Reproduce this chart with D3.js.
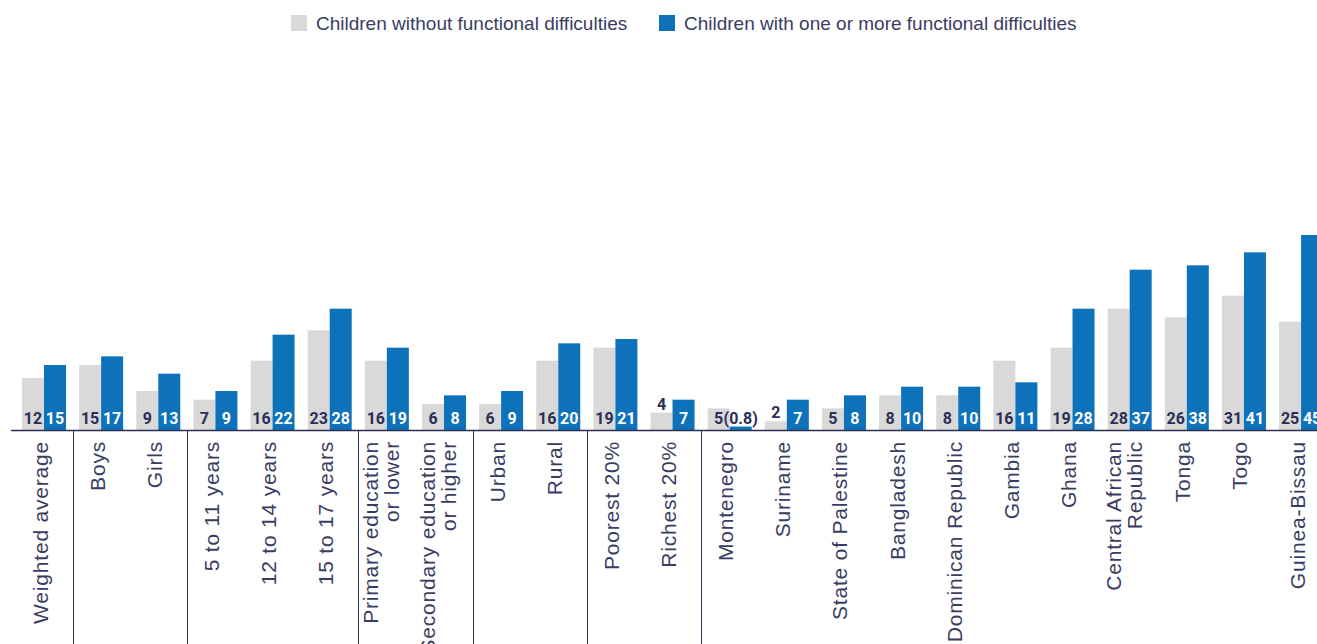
<!DOCTYPE html>
<html><head><meta charset="utf-8">
<script src="https://cdn.jsdelivr.net/npm/d3@7"></script>
<style>
body{margin:0;background:#fff;}
svg{display:block;}
</style></head>
<body>
<svg id="chart" width="1317" height="644"></svg>
<script>
const categories = [
  ["Weighted average"], ["Boys"], ["Girls"], ["5 to 11 years"], ["12 to 14 years"], ["15 to 17 years"],
  ["Primary education","or lower"], ["Secondary education","or higher"], ["Urban"], ["Rural"],
  ["Poorest 20%"], ["Richest 20%"], ["Montenegro"], ["Suriname"], ["State of Palestine"],
  ["Bangladesh"], ["Dominican Republic"], ["Gambia"], ["Ghana"], ["Central African","Republic"],
  ["Tonga"], ["Togo"], ["Guinea-Bissau"]
];
const withoutDiff = [12,15,9,7,16,23,16,6,6,16,19,4,5,2,5,8,8,16,19,28,26,31,25];
const withDiff    = [15,17,13,9,22,28,19,8,9,20,21,7,0.8,7,8,10,10,11,28,37,38,41,45];
const seriesNames = ["Children without functional difficulties","Children with one or more functional difficulties"];
const groupBreaks = [1,3,6,8,10,12]; // separator before these category indices

const colors = ["#d9d9d9","#0e72bb"];
const dark = "#2b2e55";
const labelColor = "#3a3d63";

const svg = d3.select("#chart");
const keys = categories.map(c => c.join(" "));
const baseY = 430;

const x0 = d3.scaleBand().domain(keys).range([15.43, 1329.65]).padding(0);
const x1 = d3.scaleBand().domain([0,1]).range([6.57, x0.bandwidth()-6.57]).padding(0);
const y = d3.scaleLinear().domain([0,45]).range([baseY, 235]);

const data = keys.map((k,i)=>({key:k, lines:categories[i], vals:[withoutDiff[i], withDiff[i]]}));

// bars
const g = svg.append("g");
const groups = g.selectAll("g.grp").data(data).join("g").attr("class","grp")
  .attr("transform", d=>`translate(${x0(d.key)},0)`);
groups.selectAll("rect").data(d=>d.vals.map((v,s)=>({v,s}))).join("rect")
  .attr("x", d=>x1(d.s)).attr("width", x1.bandwidth())
  .attr("y", d=>y(d.v)).attr("height", d=>baseY - y(d.v))
  .attr("fill", d=>colors[d.s]);

// value labels
groups.selectAll("text.val").data(d=>d.vals.map((v,s)=>({v,s}))).join("text").attr("class","val")
  .attr("x", d=>x1(d.s)+x1.bandwidth()/2)
  .attr("y", d=>{
    const h = baseY - y(d.v);
    if (d.v < 1) return baseY-6;
    return h < 18 ? y(d.v)-3 : baseY-6;
  })
  .attr("text-anchor","middle")
  .attr("font-family","Roboto, 'Liberation Sans', Arial, sans-serif")
  .attr("font-weight","700").attr("font-size","16px")
  .attr("fill", d=>{
    const h = baseY - y(d.v);
    if (d.s===0 || d.v<1 || h<18) return dark;
    return "#ffffff";
  })
  .text(d=> d.v<1 ? `(${d.v})` : d.v);

// baseline
svg.append("line").attr("x1",11).attr("x2",1317).attr("y1",baseY+0.5).attr("y2",baseY+0.5)
  .attr("stroke",dark).attr("stroke-width",1.5);

// separators
groupBreaks.forEach(i=>{
  const xs = Math.round(x0(keys[i])) + 0.5;
  svg.append("line").attr("x1",xs).attr("x2",xs).attr("y1",baseY).attr("y2",644)
    .attr("stroke",dark).attr("stroke-width",1);
});

// category labels (rotated)
const lab = svg.append("g");
data.forEach(d=>{
  const cx = x0(d.key)+x0.bandwidth()/2;
  const n = d.lines.length;
  d.lines.forEach((ln,j)=>{
    const off = n===1 ? 3.5 : (j===0 ? -8.5 : 12.5);
    lab.append("text")
      .attr("transform",`translate(${cx+off},441) rotate(-90)`)
      .attr("text-anchor","end")
      .attr("font-family","'Liberation Sans', Arial, sans-serif")
      .attr("font-size","21px")
      .attr("letter-spacing","0.8px")
      .attr("fill",labelColor)
      .text(ln);
  });
});

// legend
const legendX = [291, 659];
seriesNames.forEach((s,i)=>{
  svg.append("rect").attr("x",legendX[i]).attr("y",15).attr("width",16).attr("height",16).attr("fill",colors[i]);
  svg.append("text").attr("x",legendX[i]+25).attr("y",29.5)
    .attr("font-family","'Liberation Sans', Arial, sans-serif").attr("font-size","19px")
    .attr("fill",labelColor).text(s);
});
</script>
</body></html>
